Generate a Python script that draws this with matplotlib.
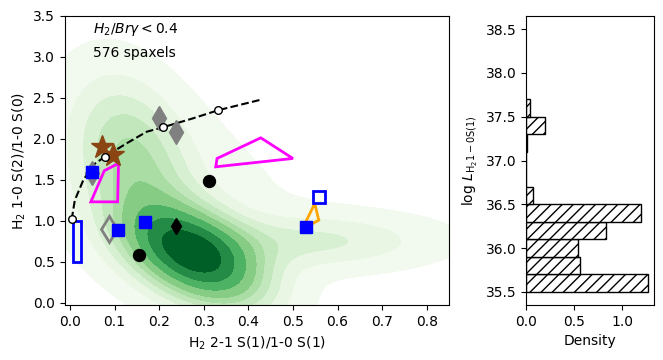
import numpy as np
import matplotlib
matplotlib.use("Agg")
import matplotlib.pyplot as plt
from matplotlib.patches import Polygon

# ---------------- data ----------------
# KDE-like density of the 576 spaxels, approximated by Gaussian components
kde_mx = [0.28, 0.14, 0.56, 0.22]
kde_my = [0.58, 1.75, 0.75, 1.3]
kde_sx = [0.10, 0.085, 0.17, 0.20]
kde_sy = [0.40, 0.65, 0.22, 0.80]
kde_rho = [-0.45, -0.3, 0.0, -0.3]
kde_w = [0.50, 0.25, 0.10, 0.15]

# thermal curve
curve_x = [0.004, 0.011, 0.030, 0.052, 0.078, 0.127, 0.172, 0.208, 0.276, 0.333, 0.43]
curve_y = [1.015, 1.25, 1.495, 1.68, 1.78, 1.944, 2.086, 2.14, 2.25, 2.35, 2.48]
curve_pts_x = [0.004, 0.078, 0.208, 0.333]
curve_pts_y = [1.015, 1.78, 2.14, 2.35]

star_x = [0.073, 0.097]
star_y = [1.90, 1.80]
gdiam_x = [0.200, 0.238, 0.050]
gdiam_y = [2.25, 2.086, 1.577]
odiam_x = [0.087]
odiam_y = [0.896]
bsq_x = [0.050, 0.108, 0.169, 0.529]
bsq_y = [1.59, 0.884, 0.978, 0.917]
osq_x = [0.559]
osq_y = [1.284]
bcirc_x = [0.312, 0.155]
bcirc_y = [1.487, 0.575]
bdiam_x = [0.238]
bdiam_y = [0.936]

rect_x = [0.006, 0.024, 0.024, 0.006]
rect_y = [0.49, 0.49, 1.0, 1.0]
mag1_x = [0.047, 0.077, 0.109, 0.107]
mag1_y = [1.23, 1.61, 1.70, 1.23]
mag2_x = [0.327, 0.330, 0.428, 0.500]
mag2_y = [1.658, 1.76, 2.012, 1.76]
orng_x = [0.521, 0.549, 0.558]
orng_y = [0.896, 1.21, 1.006]

# histogram
bin_edges = [35.5, 35.7, 35.9, 36.1, 36.3, 36.5, 36.7, 36.9, 37.1, 37.3, 37.5, 37.7]
hist_density = [1.27, 0.56, 0.54, 0.832, 1.197, 0.077, 0.0, 0.0, 0.01, 0.198, 0.038]

# ---------------- figure ----------------
fig = plt.figure(figsize=(6.63, 3.6), dpi=100)
ax = fig.add_axes([65/663, 55/360, 384/663, 289/360])
axh = fig.add_axes([526/663, 55/360, 128/663, 289/360])

# density field
gx = np.linspace(-0.4, 1.3, 400)
gy = np.linspace(-1.5, 4.5, 400)
XX, YY = np.meshgrid(gx, gy)
Z = np.zeros_like(XX)
for mx, my, sx, sy, r, w in zip(kde_mx, kde_my, kde_sx, kde_sy, kde_rho, kde_w):
    dx = (XX - mx) / sx
    dy = (YY - my) / sy
    q = (dx**2 - 2*r*dx*dy + dy**2) / (1 - r**2)
    Z += w * np.exp(-0.5*q) / (2*np.pi*sx*sy*np.sqrt(1 - r**2))

iso = np.linspace(0.05, 1, 10)
vals = np.sort(Z.ravel())[::-1]
cum = np.cumsum(vals) / vals.sum()
idx = np.searchsorted(cum, 1 - iso)
levels = np.unique(np.take(vals, idx, mode="clip"))
ax.contourf(XX, YY, Z, levels=levels, cmap="Greens", zorder=0)

# curve
ax.plot(curve_x, curve_y, ls="--", color="black", lw=1.5, zorder=3)
ax.plot(curve_pts_x, curve_pts_y, "o", mfc="white", mec="black", ms=5.5, mew=1, zorder=6)

# polygons
ax.add_patch(Polygon(np.column_stack([rect_x, rect_y]), closed=True, fill=False, ec="blue", lw=2, zorder=4))
ax.add_patch(Polygon(np.column_stack([mag1_x, mag1_y]), closed=True, fill=False, ec="magenta", lw=2, zorder=4))
ax.add_patch(Polygon(np.column_stack([mag2_x, mag2_y]), closed=True, fill=False, ec="magenta", lw=2, zorder=4))
ax.add_patch(Polygon(np.column_stack([orng_x, orng_y]), closed=True, fill=False, ec="orange", lw=2, zorder=4))

# markers
ax.plot(gdiam_x, gdiam_y, "d", color="gray", ms=12.5, ls="none", zorder=4)
ax.plot(odiam_x, odiam_y, "d", mfc="none", mec="gray", mew=2, ms=13, ls="none", zorder=4)
ax.plot(star_x, star_y, "*", color="saddlebrown", ms=17, ls="none", zorder=5)
ax.plot(bsq_x, bsq_y, "s", color="blue", ms=8.4, ls="none", zorder=5)
ax.plot(osq_x, osq_y, "s", mfc="none", mec="blue", mew=2, ms=8, ls="none", zorder=5)
ax.plot(bcirc_x, bcirc_y, "o", color="black", ms=8.6, ls="none", zorder=5)
ax.plot(bdiam_x, bdiam_y, "d", color="black", ms=8.5, ls="none", zorder=5)

ax.text(0.072, 0.955, r"$H_2/Br\gamma < 0.4$", transform=ax.transAxes, fontsize=10, va="center")
ax.text(0.072, 0.872, "576 spaxels", transform=ax.transAxes, fontsize=10, va="center")

ax.set_xlim(-0.011, 0.85)
ax.set_ylim(-0.03, 3.5)
ax.set_xticks(np.arange(0, 0.81, 0.1))
ax.set_yticks(np.arange(0, 3.51, 0.5))
ax.set_xlabel(r"H$_2$ 2-1 S(1)/1-0 S(1)")
ax.set_ylabel(r"H$_2$ 1-0 S(2)/1-0 S(0)")

# histogram
edges = np.array(bin_edges)
axh.barh(edges[:-1], hist_density, height=np.diff(edges), align="edge",
         color="white", edgecolor="black", hatch="///", lw=1)
axh.set_ylim(35.35, 38.65)
axh.set_xlim(0, 1.333)
axh.set_yticks([35.5, 36.0, 36.5, 37.0, 37.5, 38.0, 38.5])
axh.set_xlabel("Density")
axh.set_ylabel(r"log $L_{\mathrm{H_2 1-0S(1)}}$")

fig.savefig("out.png", dpi=100)
